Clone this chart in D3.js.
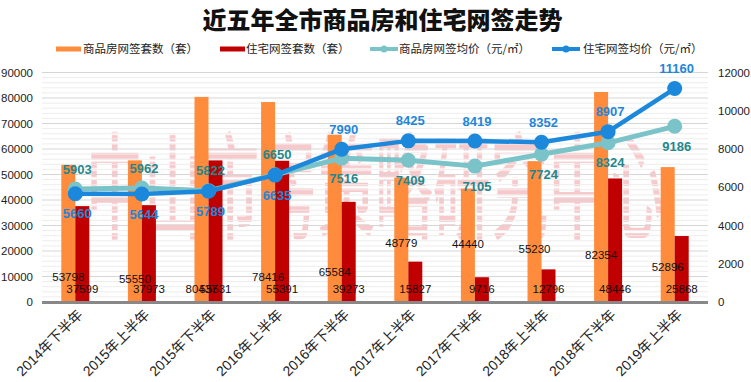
<!DOCTYPE html>
<html><head><meta charset="utf-8">
<script src="https://cdn.jsdelivr.net/npm/d3@7"></script>
<style>
body{margin:0;background:#fff;}
svg{display:block;font-family:"Liberation Sans","Noto Sans CJK SC",sans-serif;}
</style></head>
<body>
<svg id="c" width="751" height="382"></svg>
<script>
const categories = ["2014年下半年","2015年上半年","2015年下半年","2016年上半年","2016年下半年","2017年上半年","2017年下半年","2018年上半年","2018年下半年","2019年上半年"];
const commercialCount = [53798,55550,80437,78416,65584,48779,44440,55230,82354,52896];
const residentialCount = [37599,37973,55531,55391,39273,15827,9716,12796,48446,25868];
const commercialPrice = [5903,5962,5822,6650,7516,7409,7105,7724,8324,9186];
const residentialPrice = [5660,5644,5789,6635,7990,8425,8419,8352,8907,11160];
const leftTicks = [0,10000,20000,30000,40000,50000,60000,70000,80000,90000];
const rightTicks = [0,2000,4000,6000,8000,10000,12000];
const seriesNames = ["商品房网签套数（套）","住宅网签套数（套）","商品房网签均价（元/㎡）","住宅网签均价（元/㎡）"];
// label layout (pixel y of count labels, chosen as in the original)
const commercialLabelY = [277,279,289,277,272,243,244,249,255,267];
const commercialPriceAbove = [1,1,1,1,0,0,0,0,0,0];
const residentialPriceAbove = [0,0,0,0,1,1,1,1,1,1];

const C = {orange:"#FF8B3D", red:"#C00000", teal:"#7AC3C8", blue:"#1B88DC", tealText:"#23878C", blueText:"#1F86DA"};
const svg = d3.select("#c");
const L = 42, R = 708, T = 72.5, B = 302;
const x = d3.scaleBand().domain(categories).range([L,R]);
const yL = d3.scaleLinear().domain([0,90000]).range([B,T]);
const yR = d3.scaleLinear().domain([0,12000]).range([B,T]);

// title
svg.append("text").attr("x",382.5).attr("y",29).attr("text-anchor","middle")
  .style("font-family","'Noto Sans CJK SC'").style("font-weight",900).style("font-size","24px").attr("fill","#111")
  .text("近五年全市商品房和住宅网签走势");

// watermark pattern
const step = yL(0)-yL(2000);
const defs = svg.append("defs");
const pat = defs.append("pattern").attr("id","stripe").attr("patternUnits","userSpaceOnUse")
  .attr("width",10).attr("height",step).attr("y",B);
pat.append("rect").attr("width",10).attr("height",step-1.4).attr("y",0.7).attr("fill","#F8C8CB");

// watermark
svg.append("g").attr("transform","translate(86,230) scale(1,1.75)")
  .append("text").attr("x",0).attr("y",0)
  .attr("textLength",578).attr("lengthAdjust","spacingAndGlyphs")
  .style("font-family","'Noto Sans CJK SC'").style("font-size","66px").style("font-weight",500)
  .attr("fill","url(#stripe)").text("中山市房策略研究中心");

// gridlines
const minor = d3.range(0,90001,2000).filter(v=>v%10000!==0);
svg.append("g").selectAll("line").data(minor).join("line")
  .attr("x1",L).attr("x2",R).attr("y1",d=>yL(d)).attr("y2",d=>yL(d)).attr("stroke","#EDEDED").attr("stroke-width",1);
svg.append("g").selectAll("line").data(leftTicks.slice(1)).join("line")
  .attr("x1",L).attr("x2",R).attr("y1",d=>yL(d)).attr("y2",d=>yL(d)).attr("stroke","#D6D6D6").attr("stroke-width",1);

// axes labels
svg.append("g").selectAll("text").data(leftTicks).join("text")
  .attr("x",33).attr("y",d=>yL(d)).attr("dy","0.35em").attr("text-anchor","end")
  .style("font-size","11.5px").attr("fill","#222").text(d=>d);
svg.append("g").selectAll("text").data(rightTicks).join("text")
  .attr("x",718).attr("y",d=>yR(d)).attr("dy","0.35em").attr("text-anchor","start")
  .style("font-size","11.5px").attr("fill","#222").text(d=>d);

// bars
const bw = 14;
svg.append("g").selectAll("rect").data(commercialCount).join("rect")
  .attr("x",(d,i)=>x(categories[i])+x.bandwidth()/2-bw).attr("width",bw)
  .attr("y",d=>yL(d)).attr("height",d=>B-yL(d)).attr("fill",C.orange);
svg.append("g").selectAll("rect").data(residentialCount).join("rect")
  .attr("x",(d,i)=>x(categories[i])+x.bandwidth()/2).attr("width",bw)
  .attr("y",d=>yL(d)).attr("height",d=>B-yL(d)).attr("fill",C.red);

// axis line
svg.append("line").attr("x1",L).attr("x2",R).attr("y1",B+0.5).attr("y2",B+0.5).attr("stroke","#888").attr("stroke-width",3);

// category labels
svg.append("g").selectAll("text").data(categories).join("text")
  .attr("transform",d=>`translate(${x(d)+x.bandwidth()/2+5},${B+10}) rotate(-45)`)
  .attr("text-anchor","end").attr("dy","0.35em")
  .style("font-size","14px").attr("fill","#222").text(d=>d);

// count labels
svg.append("g").selectAll("text").data(commercialCount).join("text")
  .attr("x",(d,i)=>x(categories[i])+x.bandwidth()/2-bw/2).attr("y",(d,i)=>commercialLabelY[i])
  .attr("dy","0.35em").attr("text-anchor","middle").style("font-size","11.5px").attr("fill","#111").text(d=>d);
svg.append("g").selectAll("text").data(residentialCount).join("text")
  .attr("x",(d,i)=>x(categories[i])+x.bandwidth()/2+bw/2).attr("y",289)
  .attr("dy","0.35em").attr("text-anchor","middle").style("font-size","11.5px").attr("fill","#111").text(d=>d);

// lines
const cx = i=>x(categories[i])+x.bandwidth()/2;
function drawLine(vals,color,w){
  const line = d3.line().x((d,i)=>cx(i)).y(d=>yR(d));
  svg.append("path").datum(vals).attr("d",line).attr("fill","none").attr("stroke",color).attr("stroke-width",w).attr("stroke-linejoin","round");
  svg.append("g").selectAll("circle").data(vals).join("circle")
    .attr("cx",(d,i)=>cx(i)).attr("cy",d=>yR(d)).attr("r",7.5).attr("fill",color);
}
drawLine(commercialPrice,C.teal,5);
drawLine(residentialPrice,C.blue,4.5);

function drawPriceLabels(vals,above,color){
  svg.append("g").selectAll("text").data(vals).join("text")
    .attr("x",(d,i)=>cx(i)+2).attr("y",(d,i)=>yR(d)+(above[i]?-20:20))
    .attr("dy","0.35em").attr("text-anchor","middle")
    .style("font-size","13px").style("font-weight",700).attr("fill",color).text(d=>d);
}
drawPriceLabels(commercialPrice,commercialPriceAbove,C.tealText);
drawPriceLabels(residentialPrice,residentialPriceAbove,C.blueText);

// legend
const lg = svg.append("g").style("font-family","'Noto Sans CJK SC'").style("font-size","11.5px");
const legendX = [56,220,370,552];
const legendText = [83,246,399,583];
lg.append("rect").attr("x",legendX[0]).attr("y",46.5).attr("width",25).attr("height",5).attr("fill",C.orange);
lg.append("rect").attr("x",legendX[1]).attr("y",46.5).attr("width",25).attr("height",5).attr("fill",C.red);
[[2,C.teal],[3,C.blue]].forEach(([k,col])=>{
  lg.append("line").attr("x1",legendX[k]).attr("x2",legendX[k]+28).attr("y1",49).attr("y2",49).attr("stroke",col).attr("stroke-width",4);
  lg.append("circle").attr("cx",legendX[k]+14).attr("cy",49).attr("r",3.5).attr("fill",col);
});
seriesNames.forEach((s,i)=>{
  lg.append("text").attr("x",legendText[i]).attr("y",49).attr("dy","0.36em").attr("fill","#222").text(s);
});
</script>
</body></html>
